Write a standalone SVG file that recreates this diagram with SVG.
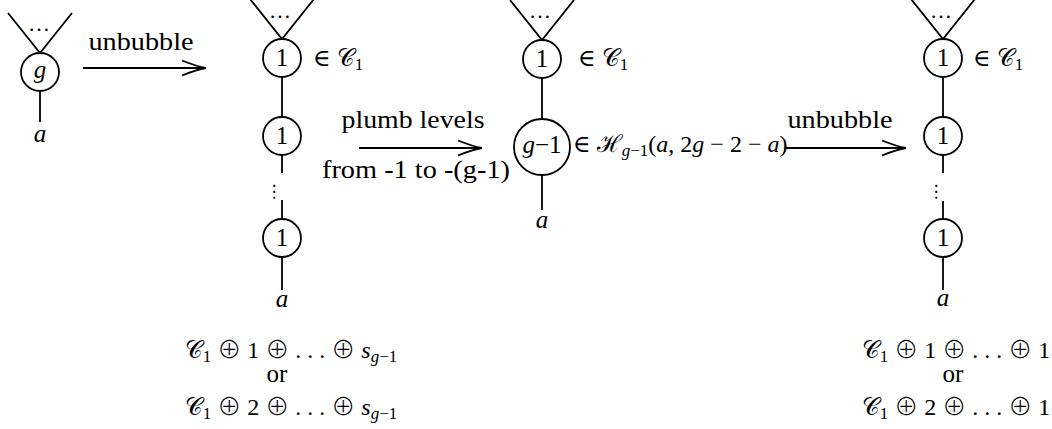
<svg xmlns="http://www.w3.org/2000/svg" width="1052" height="429" viewBox="0 0 1052 429">
<defs>
<style>
.ln{stroke:#000;stroke-width:1.8;fill:none;stroke-linecap:butt}
.nd{stroke:#000;stroke-width:1.8;fill:#fff}
.t{font-family:"Liberation Serif","DejaVu Serif",serif;font-size:25px;fill:#000}
.m{font-family:"Liberation Serif","DejaVu Serif",serif;font-size:24px;fill:#000}
.op{font-family:"DejaVu Sans ExtraLight","Noto Sans CJK JP","DejaVu Sans",sans-serif;font-weight:200}
.it{font-style:italic}
.sub{font-size:17px}
.dots{font-family:"Liberation Serif",serif;font-size:22px}
.vd{font-family:"DejaVu Sans",sans-serif;font-size:17px}
</style>
<marker id="to" markerUnits="userSpaceOnUse" markerWidth="30" markerHeight="20" viewBox="-28 -10 30 20" refX="0" refY="0" orient="auto">
<path d="M-24,-7.5 Q-9,-1.5 0,0 Q-9,1.5 -24,7.5" fill="none" stroke="#000" stroke-width="1.8"/>
</marker>
</defs>
<rect width="1052" height="429" fill="#fff"/>

<g id="connectors">
  <path class="ln" d="M8,13 L40,53 L72,13"/>
  <line class="ln" x1="40" y1="91" x2="40" y2="122"/>
  <path class="ln" d="M250,-1 L282,39 L314,-1"/>
  <line class="ln" x1="282" y1="77" x2="282" y2="117"/>
  <line class="ln" x1="282" y1="155" x2="282" y2="173"/>
  <line class="ln" x1="282" y1="200" x2="282" y2="219"/>
  <line class="ln" x1="282" y1="257" x2="282" y2="290"/>
  <path class="ln" d="M510,0 L542,40 L574,0"/>
  <line class="ln" x1="542" y1="78" x2="542" y2="119"/>
  <line class="ln" x1="542" y1="175" x2="542" y2="210"/>
  <path class="ln" d="M911,-1 L943,39 L975,-1"/>
  <line class="ln" x1="943" y1="77" x2="943" y2="117"/>
  <line class="ln" x1="943" y1="155" x2="943" y2="173"/>
  <line class="ln" x1="943" y1="201" x2="943" y2="219"/>
  <line class="ln" x1="943" y1="257" x2="943" y2="290"/>
  <line class="ln" x1="83" y1="68" x2="206" y2="68" marker-end="url(#to)"/>
  <line class="ln" x1="359" y1="148" x2="482" y2="148" marker-end="url(#to)"/>
  <line class="ln" x1="786" y1="148" x2="906" y2="148" marker-end="url(#to)"/>
</g>

<g id="arrow-labels">
  <text class="t" x="141" y="50" text-anchor="middle" textLength="105" lengthAdjust="spacingAndGlyphs">unbubble</text>
  <text class="t" x="413" y="128" text-anchor="middle" textLength="143" lengthAdjust="spacingAndGlyphs">plumb levels</text>
  <text class="t" x="416" y="178" text-anchor="middle" textLength="188" lengthAdjust="spacingAndGlyphs">from -1 to -(g-1)</text>
  <text class="t" x="840" y="128" text-anchor="middle" textLength="105" lengthAdjust="spacingAndGlyphs">unbubble</text>
</g>

<g id="col1">
  <text class="dots" x="39" y="31" text-anchor="middle">…</text>
  <g id="n1-g">
    <circle class="nd" cx="40" cy="72" r="19"/>
    <text class="t it" x="40" y="78" text-anchor="middle">g</text>
  </g>
  <text class="t it" x="40" y="142" text-anchor="middle">a</text>
</g>

<g id="col2">
  <text class="dots" x="280" y="18" text-anchor="middle">…</text>
  <g id="n2-top">
    <circle class="nd" cx="282" cy="58" r="19"/>
    <text class="t" x="282" y="66" text-anchor="middle">1</text>
  </g>
  <text class="m" x="313" y="66">∈ 𝒞<tspan class="sub" dy="4">1</tspan></text>
  <g id="n2-mid">
    <circle class="nd" cx="282" cy="136" r="19"/>
    <text class="t" x="282" y="144" text-anchor="middle">1</text>
  </g>
  <text class="vd" x="274" y="197" text-anchor="middle">⋮</text>
  <g id="n2-bot">
    <circle class="nd" cx="282" cy="238" r="19"/>
    <text class="t" x="282" y="246" text-anchor="middle">1</text>
  </g>
  <text class="t it" x="282" y="307" text-anchor="middle">a</text>
  <text class="m" x="291" y="358" text-anchor="middle">𝒞<tspan class="sub" dy="4">1</tspan><tspan dy="-4"> <tspan class="op">⊕</tspan> 1 <tspan class="op">⊕</tspan> . . . <tspan class="op">⊕</tspan> </tspan><tspan class="it">s</tspan><tspan class="sub" dy="4"><tspan class="it">g</tspan>−1</tspan></text>
  <text class="t" x="277" y="382" text-anchor="middle">or</text>
  <text class="m" x="291" y="415" text-anchor="middle">𝒞<tspan class="sub" dy="4">1</tspan><tspan dy="-4"> <tspan class="op">⊕</tspan> 2 <tspan class="op">⊕</tspan> . . . <tspan class="op">⊕</tspan> </tspan><tspan class="it">s</tspan><tspan class="sub" dy="4"><tspan class="it">g</tspan>−1</tspan></text>
</g>

<g id="col3">
  <text class="dots" x="540" y="18" text-anchor="middle">…</text>
  <g id="n3-top">
    <circle class="nd" cx="542" cy="59" r="19"/>
    <text class="t" x="542" y="67" text-anchor="middle">1</text>
  </g>
  <text class="m" x="578" y="66">∈ 𝒞<tspan class="sub" dy="4">1</tspan></text>
  <g id="n3-big">
    <circle class="nd" cx="542" cy="147" r="28"/>
    <text class="t" x="542" y="153" text-anchor="middle" font-size="23"><tspan class="it">g</tspan>−1</text>
  </g>
  <text class="m" x="573" y="152" font-size="19">∈ ℋ<tspan class="sub" font-size="14" dy="4"><tspan class="it">g</tspan>−1</tspan><tspan dy="-4">(<tspan class="it">a</tspan>, 2<tspan class="it">g</tspan> − 2 − <tspan class="it">a</tspan>)</tspan></text>
  <text class="t it" x="542" y="228" text-anchor="middle">a</text>
</g>

<g id="col4">
  <text class="dots" x="941" y="18" text-anchor="middle">…</text>
  <g id="n4-top">
    <circle class="nd" cx="943" cy="58" r="19"/>
    <text class="t" x="943" y="66" text-anchor="middle">1</text>
  </g>
  <text class="m" x="973" y="66">∈ 𝒞<tspan class="sub" dy="4">1</tspan></text>
  <g id="n4-mid">
    <circle class="nd" cx="943" cy="136" r="19"/>
    <text class="t" x="943" y="144" text-anchor="middle">1</text>
  </g>
  <text class="vd" x="936" y="197" text-anchor="middle">⋮</text>
  <g id="n4-bot">
    <circle class="nd" cx="943" cy="238" r="19"/>
    <text class="t" x="943" y="246" text-anchor="middle">1</text>
  </g>
  <text class="t it" x="943" y="306" text-anchor="middle">a</text>
  <text class="m" x="956" y="358" text-anchor="middle">𝒞<tspan class="sub" dy="4">1</tspan><tspan dy="-4"> <tspan class="op">⊕</tspan> 1 <tspan class="op">⊕</tspan> . . . <tspan class="op">⊕</tspan> 1</tspan></text>
  <text class="t" x="953" y="382" text-anchor="middle">or</text>
  <text class="m" x="956" y="415" text-anchor="middle">𝒞<tspan class="sub" dy="4">1</tspan><tspan dy="-4"> <tspan class="op">⊕</tspan> 2 <tspan class="op">⊕</tspan> . . . <tspan class="op">⊕</tspan> 1</tspan></text>
</g>
</svg>
